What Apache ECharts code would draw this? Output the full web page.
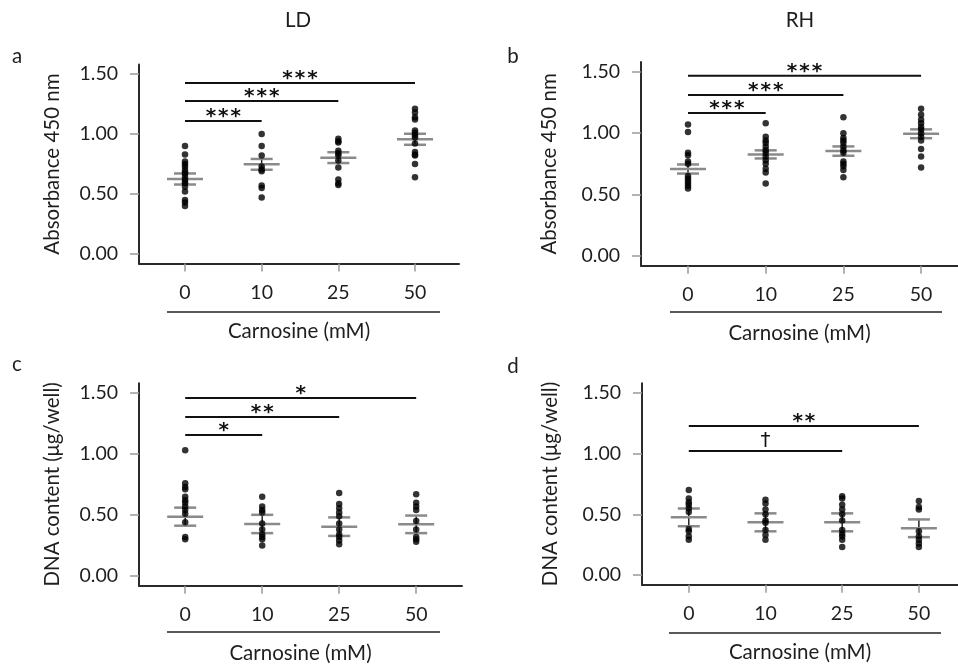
<!DOCTYPE html>
<html>
<head>
<meta charset="utf-8">
<script src="https://cdn.jsdelivr.net/npm/echarts@6/dist/echarts.min.js"></script>
<style>
html,body{margin:0;padding:0;background:#fff;}
#chart{width:958px;height:668px;}
</style>
</head>
<body>
<div id="chart"></div>
<script>
// ---------------- data ----------------
const categories = ['0', '10', '25', '50'];
const yTicks = [0, 0.5, 1.0, 1.5];
const xTicks = [0, 1, 2, 3];

// panel a: LD, Absorbance 450 nm
const ldAbs = [
  [0.90, 0.83, 0.77, 0.75, 0.73, 0.70, 0.68, 0.67, 0.645, 0.62, 0.60, 0.59, 0.56, 0.52, 0.45, 0.43, 0.40],
  [1.00, 0.90, 0.82, 0.73, 0.705, 0.69, 0.57, 0.55, 0.47],
  [0.96, 0.94, 0.93, 0.86, 0.84, 0.82, 0.78, 0.72, 0.62, 0.59, 0.575],
  [1.21, 1.18, 1.14, 1.12, 1.03, 1.01, 0.99, 0.97, 0.92, 0.85, 0.83, 0.82, 0.75, 0.64]
];
const ldAbsMean = [0.625, 0.747, 0.803, 0.956];
const ldAbsSem = [0.046, 0.045, 0.045, 0.046];
const ldAbsSig = [[0, 1, 1.108, '***'], [0, 2, 1.275, '***'], [0, 3, 1.425, '***']];

// panel b: RH, Absorbance 450 nm
const rhAbs = [
  [1.07, 1.01, 0.84, 0.82, 0.77, 0.75, 0.65, 0.63, 0.61, 0.59, 0.57, 0.55],
  [1.08, 0.97, 0.94, 0.92, 0.89, 0.86, 0.84, 0.81, 0.78, 0.75, 0.71, 0.68, 0.59],
  [1.13, 1.00, 0.96, 0.94, 0.92, 0.89, 0.86, 0.84, 0.77, 0.75, 0.73, 0.70, 0.64],
  [1.20, 1.15, 1.11, 1.08, 1.05, 1.03, 1.00, 0.97, 0.94, 0.87, 0.81, 0.72]
];
const rhAbsMean = [0.708, 0.827, 0.854, 0.995];
const rhAbsSem = [0.037, 0.033, 0.038, 0.036];
const rhAbsSig = [[0, 1, 1.165, '***'], [0, 2, 1.312, '***'], [0, 3, 1.467, '***']];

// panel c: LD, DNA content
const ldDna = [
  [1.03, 0.76, 0.73, 0.71, 0.65, 0.62, 0.60, 0.57, 0.54, 0.51, 0.44, 0.32, 0.30],
  [0.65, 0.57, 0.54, 0.52, 0.43, 0.38, 0.34, 0.32, 0.30, 0.25],
  [0.68, 0.59, 0.555, 0.52, 0.49, 0.43, 0.38, 0.34, 0.32, 0.29, 0.26],
  [0.67, 0.60, 0.57, 0.54, 0.45, 0.38, 0.32, 0.30, 0.28]
];
const ldDnaMean = [0.486, 0.426, 0.404, 0.423];
const ldDnaSem = [0.074, 0.075, 0.076, 0.072];
const ldDnaSig = [[0, 1, 1.156, '*'], [0, 2, 1.303, '**'], [0, 3, 1.459, '*']];

// panel d: RH, DNA content
const rhDna = [
  [0.70, 0.63, 0.60, 0.58, 0.55, 0.52, 0.38, 0.36, 0.32, 0.29],
  [0.62, 0.59, 0.54, 0.50, 0.45, 0.43, 0.37, 0.33, 0.29],
  [0.65, 0.63, 0.58, 0.54, 0.50, 0.45, 0.37, 0.34, 0.32, 0.29, 0.23],
  [0.61, 0.56, 0.54, 0.36, 0.32, 0.29, 0.26, 0.23]
];
const rhDnaMean = [0.475, 0.434, 0.434, 0.385];
const rhDnaSem = [0.073, 0.074, 0.074, 0.073];
const rhDnaSig = [[0, 2, 1.022, '\u2020'], [0, 3, 1.228, '**']];

// ---------------- layout / style ----------------
const FONT = 'Lato';
const TXT = '#1e1e1e';
const panels = [
  {grid: {left: 139, top: 64.4, width: 320, height: 199.2}, xmin: -0.6, xmax: 3.574, yname: 'Absorbance 450 nm', nameGap: 76,
   dots: ldAbs, mean: ldAbsMean, sem: ldAbsSem, sig: ldAbsSig},
  {grid: {left: 641, top: 62, width: 317, height: 203.7}, xmin: -0.605, xmax: 3.475, yname: 'Absorbance 450 nm', nameGap: 81,
   dots: rhAbs, mean: rhAbsMean, sem: rhAbsSem, sig: rhAbsSig},
  {grid: {left: 139, top: 383.2, width: 323, height: 202.5}, xmin: -0.6, xmax: 3.595, yname: 'DNA content (\u03bcg/well)', nameGap: 76,
   dots: ldDna, mean: ldDnaMean, sem: ldDnaSem, sig: ldDnaSig},
  {grid: {left: 642, top: 383.3, width: 316, height: 201.4}, xmin: -0.61, xmax: 3.51, yname: 'DNA content (\u03bcg/well)', nameGap: 81,
   dots: rhDna, mean: rhDnaMean, sem: rhDnaSem, sig: rhDnaSig}
];

const grids = [], xAxes = [], yAxes = [], series = [];
panels.forEach((p, k) => {
  grids.push(Object.assign({containLabel: false}, p.grid));
  xAxes.push({
    type: 'value', gridIndex: k, min: p.xmin, max: p.xmax,
    axisLine: {onZero: false, lineStyle: {color: '#2a2a2a', width: 2}},
    axisTick: {show: true, customValues: xTicks, length: 8, lineStyle: {color: '#9a9a9a', width: 1.5}},
    axisLabel: {customValues: xTicks, formatter: v => categories[Math.round(v)], margin: 19,
      fontSize: 19.5, color: TXT, fontFamily: FONT},
    splitLine: {show: false},
    name: 'Carnosine (mM)', nameLocation: 'middle', nameGap: 57,
    nameTextStyle: {fontSize: 20.5, color: TXT, fontFamily: FONT}
  });
  yAxes.push({
    type: 'value', gridIndex: k, min: -0.08, max: 1.58,
    axisLine: {show: true, onZero: false, lineStyle: {color: '#2a2a2a', width: 2}},
    axisTick: {show: true, customValues: yTicks, length: 9, lineStyle: {color: '#9a9a9a', width: 1.5}},
    axisLabel: {customValues: yTicks, formatter: v => v.toFixed(2), margin: 21,
      fontSize: 19.5, color: TXT, fontFamily: FONT},
    splitLine: {show: false},
    name: p.yname, nameLocation: 'middle', nameGap: p.nameGap, nameRotate: 90,
    nameTextStyle: {fontSize: 20.5, color: TXT, fontFamily: FONT}
  });
  // mean & SEM lines
  series.push({
    type: 'custom', xAxisIndex: k, yAxisIndex: k, z: 2,
    data: p.mean.map((m, i) => [i, m, p.sem[i]]),
    renderItem: (params, api) => {
      const x = api.value(0), m = api.value(1), s = api.value(2);
      const c = api.coord([x, m]), hi = api.coord([x, m + s]), lo = api.coord([x, m - s]);
      const gray = {stroke: '#8a8a8a', lineWidth: 2.5};
      return {type: 'group', children: [
        {type: 'line', shape: {x1: c[0], y1: hi[1], x2: c[0], y2: lo[1]}, style: {stroke: '#222', lineWidth: 1.5}},
        {type: 'line', shape: {x1: c[0] - 18, y1: c[1], x2: c[0] + 18, y2: c[1]}, style: gray},
        {type: 'line', shape: {x1: c[0] - 11, y1: hi[1], x2: c[0] + 11, y2: hi[1]}, style: gray},
        {type: 'line', shape: {x1: c[0] - 11, y1: lo[1], x2: c[0] + 11, y2: lo[1]}, style: gray}
      ]};
    }
  });
  // dots
  const pts = [];
  p.dots.forEach((arr, i) => arr.forEach(v => pts.push([i, v])));
  series.push({
    type: 'scatter', xAxisIndex: k, yAxisIndex: k, z: 3,
    symbol: 'circle', symbolSize: 6.5, itemStyle: {color: '#000'},
    data: pts, silent: true
  });
  // significance bars
  series.push({
    type: 'custom', xAxisIndex: k, yAxisIndex: k, z: 4,
    data: p.sig.map(s => [s[0], s[1], s[2], s[3]]),
    renderItem: (params, api) => {
      const a = api.coord([api.value(0), api.value(2)]);
      const b = api.coord([api.value(1), api.value(2)]);
      const label = p.sig[params.dataIndex][3];
      const isDagger = label === '\u2020';
      return {type: 'group', children: [
        {type: 'line', shape: {x1: a[0], y1: a[1], x2: b[0], y2: b[1]}, style: {stroke: '#111', lineWidth: 2}},
        {type: 'text', x: (a[0] + b[0]) / 2, y: a[1] - (isDagger ? 10 : 4.5),
         style: {text: label.split('').join('\u200a'), align: 'center', verticalAlign: 'middle',
           font: (isDagger ? '' : 'bold ') + '20px "DejaVu Sans"', fill: '#111'}}
      ]};
    }
  });
});

const titles = [
  {text: 'LD', left: 298, top: 20},
  {text: 'RH', left: 800, top: 20},
  {text: 'a', left: 17, top: 56},
  {text: 'b', left: 513, top: 56},
  {text: 'c', left: 17, top: 364},
  {text: 'd', left: 513, top: 366}
];

const chart = echarts.init(document.getElementById('chart'), null, {renderer: 'canvas'});
chart.setOption({
  animation: false,
  backgroundColor: '#ffffff',
  grid: grids, xAxis: xAxes, yAxis: yAxes, series: series,
  graphic: [
    ...titles.map(t => ({type: 'text', x: t.left, y: t.top,
      style: {text: t.text, align: 'center', verticalAlign: 'middle', font: '20.5px Lato', fill: TXT}})),
    {type: 'line', shape: {x1: 167, y1: 312, x2: 440, y2: 312}, style: {stroke: '#222', lineWidth: 1.5}},
    {type: 'line', shape: {x1: 670, y1: 312, x2: 942, y2: 312}, style: {stroke: '#222', lineWidth: 1.5}},
    {type: 'line', shape: {x1: 167, y1: 632, x2: 440, y2: 632}, style: {stroke: '#222', lineWidth: 1.5}},
    {type: 'line', shape: {x1: 669, y1: 633, x2: 941, y2: 633}, style: {stroke: '#222', lineWidth: 1.5}}
  ]
});
</script>
</body>
</html>
